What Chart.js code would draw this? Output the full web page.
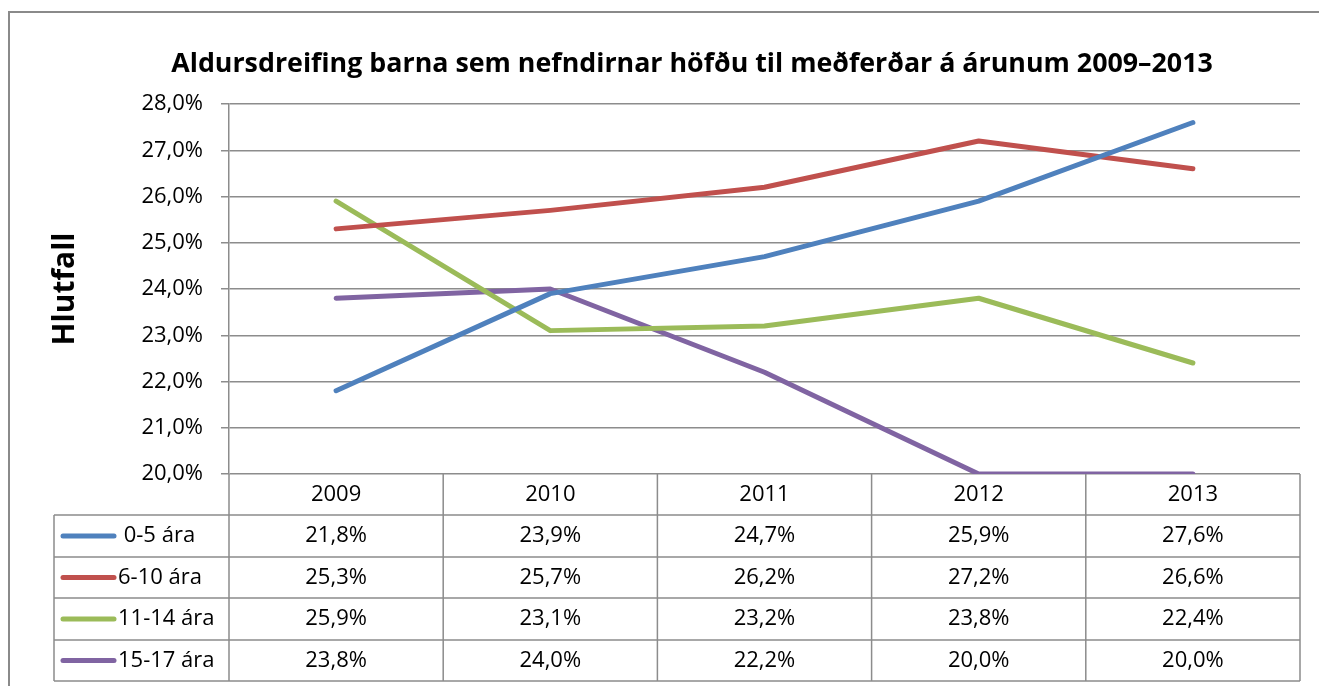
<!DOCTYPE html>
<html><head><meta charset="utf-8">
<script src="https://cdn.jsdelivr.net/npm/chart.js@4.4.1/dist/chart.umd.min.js"></script>
<style>html,body{margin:0;padding:0;background:#fff;} canvas{display:block;}</style>
</head><body>
<canvas id="c" width="1319" height="686"></canvas>
<script>
const chartTitle = 'Aldursdreifing barna sem nefndirnar höfðu til meðferðar á árunum 2009–2013';
const yAxisTitle = 'Hlutfall';
const categories = ['2009', '2010', '2011', '2012', '2013'];
const seriesNames = [' 0-5 ára', '6-10 ára', '11-14 ára', '15-17 ára'];
const age0to5 = [21.8, 23.9, 24.7, 25.9, 27.6];
const age6to10 = [25.3, 25.7, 26.2, 27.2, 26.6];
const age11to14 = [25.9, 23.1, 23.2, 23.8, 22.4];
const age15to17 = [23.8, 24.0, 22.2, 20.0, 20.0];
const yTicks = [20, 21, 22, 23, 24, 25, 26, 27, 28];
const seriesColors = ['#4F81BD', '#C0504D', '#9BBB59', '#8064A2'];

const FONT = '"Open Sans", "Noto Sans", sans-serif';
const GRID = '#8c8c8c';
const fmt = v => v.toFixed(1).replace('.', ',') + '%';
const allSeries = [age0to5, age6to10, age11to14, age15to17];

const frameTitlePlugin = {
  id: 'frameTitle',
  beforeDraw(chart) {
    const ctx = chart.ctx;
    ctx.save();
    ctx.fillStyle = '#fff';
    ctx.fillRect(0, 0, chart.width, chart.height);
    ctx.strokeStyle = '#8a8a8a';
    ctx.lineWidth = 2;
    ctx.beginPath();
    ctx.moveTo(9, chart.height + 5);
    ctx.lineTo(9, 12);
    ctx.lineTo(chart.width + 5, 12);
    ctx.stroke();
    ctx.fillStyle = '#000';
    ctx.font = 'bold 26.8px ' + FONT;
    ctx.textAlign = 'center';
    ctx.textBaseline = 'middle';
    ctx.fillText(chartTitle, 692, 64);
    ctx.restore();
  }
};

const dataTablePlugin = {
  id: 'dataTable',
  beforeDatasetsDraw(chart) {
    const ctx = chart.ctx;
    const xs = chart.scales.x;
    const area = chart.chartArea;
    const centers = categories.map((c, i) => xs.getPixelForValue(i));
    const bounds = [area.left];
    for (let i = 1; i < centers.length; i++) bounds.push((centers[i - 1] + centers[i]) / 2);
    bounds.push(area.right);
    const rowLines = [area.bottom, 515, 557, 598, 640, 681];
    const tableLeft = 54;
    ctx.save();
    ctx.strokeStyle = GRID;
    ctx.lineWidth = 1.5;
    ctx.beginPath();
    for (let r = 1; r < rowLines.length; r++) {
      ctx.moveTo(tableLeft, rowLines[r]);
      ctx.lineTo(area.right, rowLines[r]);
    }
    ctx.moveTo(tableLeft, rowLines[1]);
    ctx.lineTo(tableLeft, rowLines[rowLines.length - 1]);
    bounds.forEach(b => {
      ctx.moveTo(b, area.bottom);
      ctx.lineTo(b, rowLines[rowLines.length - 1]);
    });
    ctx.stroke();

    ctx.fillStyle = '#000';
    ctx.font = '22px ' + FONT;
    ctx.textAlign = 'center';
    ctx.textBaseline = 'middle';
    const mid = r => (rowLines[r] + rowLines[r + 1]) / 2;
    categories.forEach((c, i) => ctx.fillText(c, centers[i], mid(0)));
    allSeries.forEach((s, k) => {
      const y = mid(k + 1);
      s.forEach((v, i) => ctx.fillText(fmt(v), centers[i], y));
      ctx.save();
      ctx.strokeStyle = seriesColors[k];
      ctx.lineWidth = 5;
      ctx.lineCap = 'round';
      ctx.beginPath();
      ctx.moveTo(63, y);
      ctx.lineTo(114, y);
      ctx.stroke();
      ctx.restore();
      ctx.textAlign = 'left';
      ctx.fillText(seriesNames[k], 118, y);
      ctx.textAlign = 'center';
    });
    ctx.restore();
  }
};

new Chart(document.getElementById('c'), {
  type: 'line',
  data: {
    labels: categories,
    datasets: allSeries.map((s, k) => ({
      label: seriesNames[k],
      data: s,
      borderColor: seriesColors[k],
      backgroundColor: seriesColors[k],
      borderWidth: 5,
      borderCapStyle: 'round',
      borderJoinStyle: 'round',
      pointRadius: 0,
      tension: 0,
      fill: false
    }))
  },
  options: {
    responsive: false,
    animation: false,
    events: [],
    layout: { padding: { top: 104, right: 19, left: 0, bottom: 0 } },
    plugins: { legend: { display: false }, tooltip: { enabled: false }, title: { display: false } },
    scales: {
      x: {
        offset: true,
        ticks: { display: false },
        grid: { display: false },
        border: { display: false },
        afterFit(s) { s.height = 212; }
      },
      y: {
        min: 20, max: 28,
        afterBuildTicks(s) { s.ticks = yTicks.map(v => ({ value: v })); },
        ticks: { callback: v => fmt(v), font: { family: FONT, size: 22 }, color: '#000', padding: 18 },
        grid: { color: GRID, lineWidth: 1.5, tickLength: 8 },
        border: { display: true, color: GRID, width: 1.5 },
        title: { display: true, text: yAxisTitle, color: '#000', font: { family: FONT, size: 30, weight: 'bold' }, padding: { top: 47, bottom: 0 } },
        afterFit(s) { s.width = 229; }
      }
    }
  },
  plugins: [frameTitlePlugin, dataTablePlugin]
});
</script>
</body></html>
